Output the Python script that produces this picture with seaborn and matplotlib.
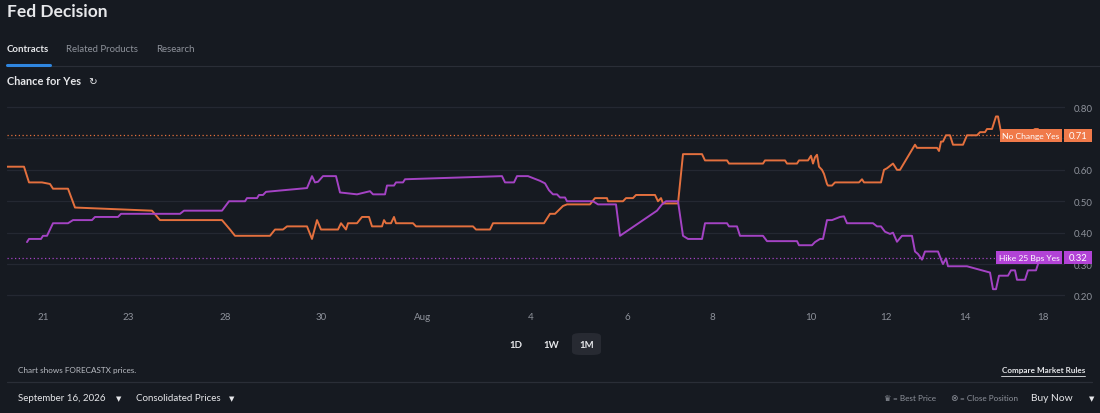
import numpy as np
import pandas as pd
import matplotlib
matplotlib.use("Agg")
import matplotlib.pyplot as plt
import matplotlib.transforms as mtransforms
from matplotlib.patches import FancyBboxPatch, Rectangle
import seaborn as sns

# ---------------- data ----------------
# x = position on the chart's trading-time axis (ticks below mark the calendar days)
nochange_t = [7, 24, 29, 42, 50, 53, 68, 75, 152, 160, 222, 230, 235, 270, 275, 283, 287, 307,
              312, 317, 321, 338, 341, 346, 348, 357, 362, 369, 372, 382, 384, 386, 391, 394,
              396, 413, 416, 473, 476, 490, 493, 544, 550, 555, 563, 567, 590, 595, 607, 608,
              623, 626, 633, 636, 655, 658, 661, 663, 678, 683, 702, 705, 727, 729, 763, 765,
              785, 787, 797, 799, 808, 811, 813, 815, 817, 819, 822, 824, 827, 828, 832, 835,
              859, 862, 864, 881, 884, 887, 893, 897, 900, 915, 917, 937, 939, 941, 943, 946,
              950, 953, 963, 967, 977, 980, 985, 987, 992, 996, 998, 1001, 1030, 1035, 1038]
nochange_v = [0.61, 0.61, 0.56, 0.56, 0.555, 0.54, 0.54, 0.48, 0.47, 0.44, 0.44, 0.41, 0.39, 0.39,
              0.41, 0.41, 0.42, 0.42, 0.38, 0.44, 0.41, 0.41, 0.43, 0.41, 0.43, 0.43, 0.45, 0.45,
              0.42, 0.42, 0.44, 0.43, 0.43, 0.45, 0.43, 0.43, 0.42, 0.42, 0.41, 0.41, 0.43, 0.43,
              0.46, 0.46, 0.485, 0.49, 0.49, 0.51, 0.51, 0.50, 0.50, 0.51, 0.51, 0.52, 0.52, 0.50,
              0.51, 0.493, 0.493, 0.65, 0.65, 0.63, 0.63, 0.62, 0.62, 0.63, 0.63, 0.62, 0.62, 0.63,
              0.63, 0.645, 0.62, 0.64, 0.648, 0.61, 0.60, 0.587, 0.555, 0.55, 0.55, 0.56, 0.56,
              0.57, 0.56, 0.56, 0.60, 0.605, 0.62, 0.60, 0.60, 0.68, 0.67, 0.67, 0.66, 0.69, 0.69,
              0.71, 0.71, 0.68, 0.68, 0.71, 0.71, 0.72, 0.72, 0.73, 0.73, 0.77, 0.77, 0.72, 0.72,
              0.73, 0.73]

hike_t = [27, 29, 41, 43, 47, 53, 68, 73, 92, 95, 118, 121, 180, 184, 222, 229, 245, 247, 257,
          259, 263, 266, 307, 312, 315, 318, 323, 336, 340, 357, 370, 373, 385, 387, 394, 396,
          403, 405, 502, 505, 514, 517, 528, 540, 545, 549, 553, 557, 560, 565, 567, 593, 598,
          616, 620, 657, 662, 666, 678, 683, 688, 702, 705, 727, 729, 737, 740, 763, 767, 797,
          799, 812, 815, 820, 823, 827, 832, 840, 844, 847, 873, 877, 881, 885, 890, 893, 897,
          902, 912, 915, 918, 922, 925, 938, 942, 943, 946, 948, 967, 990, 993, 996, 999, 1008,
          1011, 1015, 1017, 1025, 1028, 1036, 1039]
hike_v = [0.37, 0.38, 0.38, 0.39, 0.39, 0.43, 0.43, 0.44, 0.44, 0.45, 0.45, 0.46, 0.46, 0.47, 0.47,
          0.50, 0.50, 0.51, 0.51, 0.52, 0.52, 0.53, 0.542, 0.58, 0.56, 0.562, 0.58, 0.58, 0.528,
          0.522, 0.532, 0.522, 0.522, 0.55, 0.55, 0.56, 0.56, 0.57, 0.58, 0.56, 0.56, 0.58, 0.58,
          0.565, 0.557, 0.535, 0.522, 0.522, 0.512, 0.512, 0.50, 0.50, 0.49, 0.49, 0.39, 0.47,
          0.49, 0.50, 0.50, 0.39, 0.38, 0.38, 0.43, 0.43, 0.42, 0.42, 0.39, 0.39, 0.373, 0.373,
          0.36, 0.36, 0.37, 0.38, 0.38, 0.44, 0.44, 0.45, 0.452, 0.43, 0.43, 0.42, 0.42, 0.403,
          0.396, 0.40, 0.371, 0.39, 0.39, 0.34, 0.332, 0.314, 0.34, 0.34, 0.307, 0.30, 0.318,
          0.293, 0.293, 0.273, 0.22, 0.22, 0.263, 0.263, 0.28, 0.28, 0.25, 0.25, 0.28, 0.28, 0.31]

series_names = ["No Change Yes", "Hike 25 Bps Yes"]
last_prices = [0.71, 0.32]
tick_pos = [43, 128, 225, 321, 423, 531, 627, 712, 811, 886, 965, 1043]
tick_labels = ["21", "23", "28", "30", "Aug", "4", "6", "8", "10", "12", "14", "18"]
y_ticks = [0.20, 0.30, 0.40, 0.50, 0.60, 0.70, 0.80]
y_tick_labels = ["0.20", "0.30", "0.40", "0.50", "0.60", "", "0.80"]  # 0.70 hidden under the tag

# ---------------- style ----------------
BG = "#161a21"
GRID = "#242832"
ORANGE = "#e4703e"
PURPLE = "#a443c4"
ORANGE_BOX = "#f07a4a"
PURPLE_BOX = "#b243d6"
TXT = "#e6e7ea"
MUTED = "#8e929b"

sns.set_theme(style="dark", rc={"axes.facecolor": BG, "figure.facecolor": BG})
plt.rcParams['font.family'] = ['Lato', 'DejaVu Sans']

W, H = 1100, 414
fig = plt.figure(figsize=(W / 100, H / 100), dpi=100, facecolor=BG)
def fx(px): return px / W
def fy(py): return 1 - py / H

ax_top, ax_bot = 98.6, 305.9
ax = fig.add_axes([fx(7), fy(ax_bot), fx(1065) - fx(7), (ax_bot - ax_top) / H])
ax.set_facecolor(BG)

df = pd.concat([
    pd.DataFrame({"t": nochange_t, "price": nochange_v, "contract": series_names[0]}),
    pd.DataFrame({"t": hike_t, "price": hike_v, "contract": series_names[1]}),
], ignore_index=True)

sns.lineplot(data=df, x="t", y="price", hue="contract",
             palette={series_names[0]: ORANGE, series_names[1]: PURPLE},
             estimator=None, sort=True, linewidth=1.4, legend=False, ax=ax, zorder=3)

ax.set_xlim(7, 1065)
ax.set_ylim(0.17, 0.83)
ax.set_xlabel("")
ax.set_ylabel("")
ax.set_xticks(tick_pos, tick_labels)
ax.yaxis.tick_right()
ax.set_yticks(y_ticks, y_tick_labels)
ax.tick_params(axis="both", colors=MUTED, labelsize=7, length=0)
ax.tick_params(axis="y", pad=6)
ax.tick_params(axis="x", pad=5)
ax.grid(False)
for v in y_ticks:
    ax.axhline(v, color=GRID, lw=0.9, zorder=1)
for s in ax.spines.values():
    s.set_visible(False)

# reference price lines + tags
xend = (1000 - 7) / (1065 - 7)
blend = mtransforms.blended_transform_factory(fig.transFigure, ax.transData)
box_h = 13.0 / 314.0   # 13 px tall in data units (314 px per 1.0)
for name, price, lc, bc, name_left in [
        (series_names[0], last_prices[0], ORANGE, ORANGE_BOX, 1000),
        (series_names[1], last_prices[1], PURPLE, PURPLE_BOX, 996)]:
    ax.axhline(price, xmin=0, xmax=xend, color=lc, lw=0.9, ls=(0, (1, 2)), zorder=2)
    fig.add_artist(Rectangle((fx(name_left), price - box_h / 2), fx(1062) - fx(name_left), box_h,
                             transform=blend, fc=bc, ec="none", zorder=5))
    fig.add_artist(Rectangle((fx(1064), price - box_h / 2), fx(28), box_h,
                             transform=blend, fc=bc, ec="none", zorder=5))
    fig.text((fx(name_left) + fx(1062)) / 2, price, name, transform=blend, ha="center",
             va="center", fontsize=6.1, color="white", zorder=6)
    fig.text(fx(1078), price, f"{price:.2f}", transform=blend, ha="center", va="center",
             fontsize=6.8, color="white", zorder=6)

# ---------------- page chrome ----------------
fig.text(fx(7), fy(12), "Fed Decision", fontsize=12.5, fontweight="bold", color=TXT, va="center")
fig.text(fx(7), fy(49.5), "Contracts", fontsize=6.9, fontweight="bold", color=TXT, va="center")
fig.text(fx(66), fy(49.5), "Related Products", fontsize=6.9, color=MUTED, va="center")
fig.text(fx(156), fy(49.5), "Research", fontsize=6.9, color=MUTED, va="center")
fig.add_artist(plt.Line2D([fx(7), fx(1100)], [fy(66.5), fy(66.5)], color="#2a2e37", lw=0.8))
fig.add_artist(plt.Line2D([fx(7), fx(50)], [fy(65.8), fy(65.8)], color="#2f86e0", lw=2.2))
fig.text(fx(7), fy(81.5), "Chance for Yes", fontsize=7.9, fontweight="bold", color=TXT, va="center")
fig.text(fx(93), fy(81.5), "↻", fontsize=7.5, color=TXT, va="center", ha="center",
         family=["DejaVu Sans"])

# range buttons
fig.add_artist(FancyBboxPatch((fx(572), fy(356)), fx(29), (356 - 334) / H,
                              boxstyle="round,pad=0,rounding_size=0.008",
                              fc="#272a32", ec="none", transform=fig.transFigure))
for lbl, px in [("1D", 516), ("1W", 551), ("1M", 587)]:
    fig.text(fx(px), fy(346), lbl, fontsize=6.9, fontweight="bold", color=TXT,
             ha="center", va="center")

fig.text(fx(18), fy(371), "Chart shows FORECASTX prices.", fontsize=5.9, color="#b9bcc3", va="center")
fig.text(fx(1085), fy(371), "Compare Market Rules", fontsize=5.9, fontweight="bold",
         color=TXT, va="center", ha="right")
fig.add_artist(plt.Line2D([fx(1001), fx(1085)], [fy(377), fy(377)], color=TXT, lw=0.6))
fig.add_artist(plt.Line2D([fx(7), fx(1092)], [fy(382.5), fy(382.5)], color="#2a2e37", lw=0.9))

fig.text(fx(18), fy(399), "September 16, 2026", fontsize=7, color=TXT, va="center")
fig.text(fx(119), fy(399), "▼", fontsize=5, color=TXT, va="center", ha="center", family=["DejaVu Sans"])
fig.text(fx(136), fy(399), "Consolidated Prices", fontsize=7, color=TXT, va="center")
fig.text(fx(232), fy(399), "▼", fontsize=5, color=TXT, va="center", ha="center", family=["DejaVu Sans"])

fig.text(fx(887), fy(399), "♛", fontsize=6, color=MUTED, va="center", ha="center", family=["DejaVu Sans"])
fig.text(fx(893), fy(399), "= Best Price", fontsize=5.9, color=MUTED, va="center")
fig.text(fx(954), fy(399), "⊗", fontsize=6.5, color=MUTED, va="center", ha="center", family=["DejaVu Sans"])
fig.text(fx(960), fy(399), "= Close Position", fontsize=5.9, color=MUTED, va="center")
fig.text(fx(1031), fy(399), "Buy Now", fontsize=7.4, color=TXT, va="center")
fig.text(fx(1092), fy(399), "▼", fontsize=5, color=TXT, va="center", ha="center", family=["DejaVu Sans"])

fig.savefig("out.png", dpi=100, facecolor=BG)
